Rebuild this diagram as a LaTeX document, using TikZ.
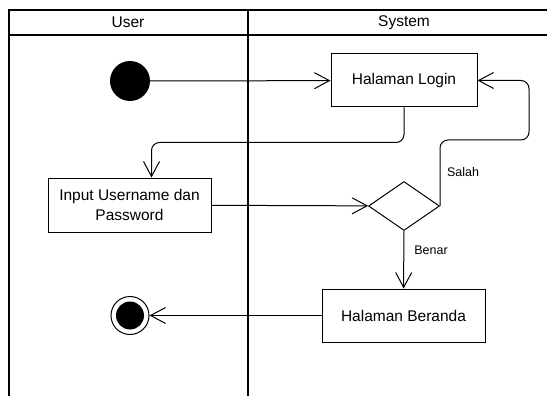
\documentclass[tikz,border=0pt]{standalone}
\usepackage{fontspec}
\setmainfont{Liberation Sans}
\usetikzlibrary{arrows.meta,shapes.geometric}
\tikzset{
	lane/.style={line width=2.4pt},
	action/.style={draw, line width=1pt, inner sep=0pt, align=center, font=\fontsize{15.5}{19.3}\selectfont},
	flow/.style={line width=1pt, rounded corners=8pt, -{Straight Barb[length=15pt,width=16pt]}},
	guard/.style={font=\fontsize{12.5}{15}\selectfont},
}
\begin{document}
\begin{tikzpicture} [x=1pt, y=-1pt]
			\useasboundingbox (0,0) rectangle (547,396);
			\clip (0,0) rectangle (547,396);
			% swimlanes
			\draw [lane] (9,400) -- (9,10) -- (560,10);
			\draw [lane] (9,35) -- (560,35);
			\draw [lane] (248,10) -- (248,400);
			\node (user) at (128,22.5) {\fontsize{15.5}{18}\selectfont User};
			\node (system) at (404,22.5) {\fontsize{15.5}{18}\selectfont System};
			% nodes
			\node [circle, fill=black, minimum size=40pt, inner sep=0pt] (start) at (130,81) {};
			\node [action, minimum width=146pt, minimum height=53pt] (login) at (404,80.5) {Halaman Login};
			\node [action, minimum width=163pt, minimum height=54pt] (input) at (129.5,205) {Input Username dan\\Password};
			\node [diamond, draw, line width=1pt, minimum width=71pt, minimum height=49pt, inner sep=0pt] (check) at (404,206) {};
			\node [action, minimum width=163pt, minimum height=53pt] (home) at (403.5,315.5) {Halaman Beranda};
			\node [circle, draw, line width=1pt, minimum size=38pt, inner sep=0pt] (end) at (130,315.5) {};
			\node [circle, fill=black, minimum size=28pt, inner sep=0pt] (endin) at (end) {};
			% flows
			\draw [flow] (start) -- (login);
			\draw [flow] (login.south) -- ++(0,35) -| ([xshift=22pt]input.north);
			\draw [flow] (input) -- (check);
			\draw [flow] (check.east) -- ++(0,-66) -- ++(89,0) |- (login.east);
			\draw [flow] (check) -- (home);
			\draw [flow] (home) -- (end);
			\node [guard] (salah) at (463,172) {Salah};
			\node [guard] (benar) at (431,250) {Benar};
			\end{tikzpicture}
\end{document}
